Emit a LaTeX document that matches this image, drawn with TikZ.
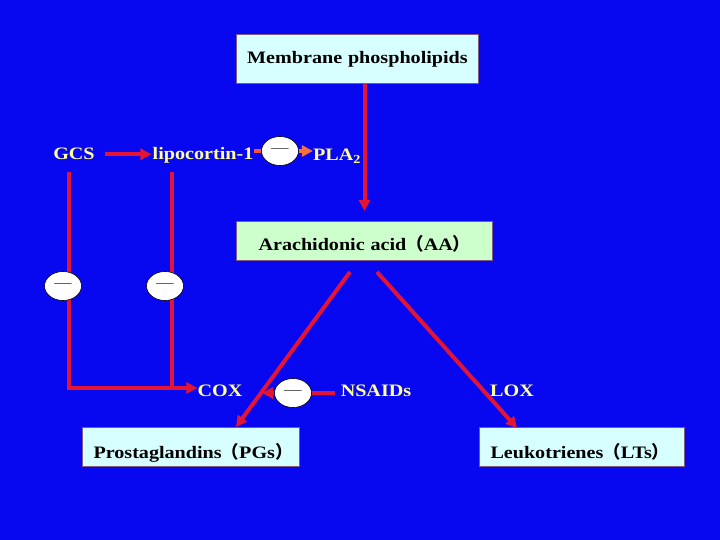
\documentclass[tikz,border=0pt]{standalone}
\usepackage{fontspec}
\setmainfont[FakeStretch=1.15]{Liberation Serif}
\newfontfamily\cjk{Noto Sans CJK SC}
\usetikzlibrary{shapes.geometric, arrows.meta}
\definecolor{bgblue}{RGB}{8,8,240}
\definecolor{linkred}{RGB}{228,20,52}
\definecolor{inhorange}{RGB}{250,110,60}
\definecolor{labelyellow}{RGB}{255,255,150}
\definecolor{boxcyan}{RGB}{215,255,255}
\definecolor{boxgreen}{RGB}{204,255,204}
\tikzset{
  stagebox/.style={draw=gray!70!violet, line width=1pt, inner ysep=0pt, font=\bfseries\fontsize{17.5}{17.5}\selectfont},
  agent/.style={text=labelyellow, inner sep=0pt, anchor=base, font=\bfseries\fontsize{17.5}{17.5}\selectfont},
  minus/.style={ellipse, draw=black, line width=0.6pt, fill=white, minimum width=37pt, minimum height=29pt, inner sep=0pt, text=black!80, font=\fontsize{15}{15}\selectfont},
  link/.style={linkred, line width=4pt},
  tip/.style={-{Triangle[length=11pt,width=11pt]}}
}

\begin{document}
\begin{tikzpicture}[x=1pt,y=-1pt]
\fill[bgblue] (0,0) rectangle (720,540);
\useasboundingbox (0,0) rectangle (720,540);
\node[stagebox, fill=boxcyan, anchor=south west, inner xsep=0pt, text width=242pt, align=center, text height=29pt, text depth=20pt] (mem) at (236,84) {Membrane phospholipids};
\node[stagebox, fill=boxgreen, anchor=south west, inner xsep=0pt, text width=256pt, align=center, text height=29pt, text depth=10pt] (aa) at (236,261) {Arachidonic acid{\cjk （}AA{\cjk ）}};
\node[stagebox, fill=boxcyan, anchor=south west, inner xsep=11pt, text width=195pt, align=left, text height=31pt, text depth=8pt] (pg) at (82,467) {Prostaglandins{\cjk （}PGs{\cjk ）}};
\node[stagebox, fill=boxcyan, anchor=south west, inner xsep=11pt, text width=183pt, align=left, text height=31pt, text depth=8pt] (lt) at (479,467) {Leukotrienes{\cjk （}LTs{\cjk ）}};
\node[agent] (gcs) at (74,160) {GCS};
\node[agent] (lip) at (203,160) {lipocortin-1};
\node[agent] (pla) at (337,161) {PLA\textsubscript{2}};
\node[agent] (cox) at (220,396) {COX};
\node[agent] (nsaid) at (376,396) {NSAIDs};
\node[agent] (lox) at (512,396) {LOX};
\coordinate (gcsdrop) at (69,172);
\coordinate (lipdrop) at (172,172);
\coordinate (join) at (172,388);
\coordinate (aaleft) at (350,272);
\coordinate (aaright) at (377,272);
\coordinate (pgtop) at (236,427);
\coordinate (lttop) at (517,428);
\coordinate (hit) at (262,393);
\draw[link, tip, shorten >=10pt] (mem.south -| aa.north) -- (aa.north);
\draw[link, tip, shorten <=10pt, shorten >=1pt] (gcs.east) -- (gcs.east -| lip.west);
\draw[link, tip] (gcsdrop) |- (join -| cox.west);
\draw[link] (lipdrop) -- (join);
\draw[link, tip] (aaleft) -- (pgtop);
\draw[link, tip] (aaright) -- (lttop);
\node[minus] (m1) at (280,151) {—};
\node[minus] (m2) at (63,286) {—};
\node[minus] (m3) at (165,286) {—};
\node[minus] (m4) at (293,393) {—};
\draw[inhorange!70!linkred, line width=4pt] (m1.west -| lip.east) -- (m1.west);
\draw[inhorange, line width=4pt, tip] (m1.east) -- (m1.east -| pla.west);
\draw[link] (m4.east -| nsaid.west) ++(-6pt,0) -- (m4.east);
\draw[link, tip] (m4.west) -- (hit);
\end{tikzpicture}
\end{document}
